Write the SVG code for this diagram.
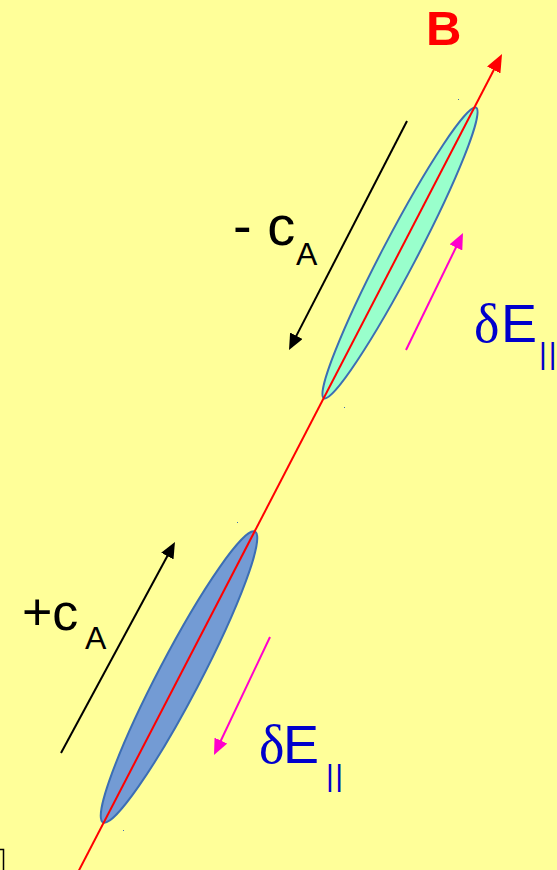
<svg xmlns="http://www.w3.org/2000/svg" width="557" height="870" viewBox="0 0 557 870">
<style>
.sans{font-family:"Liberation Sans",Arial,sans-serif}
.serif{font-family:"Liberation Serif","Times New Roman",serif}
.blk{stroke:#000;stroke-width:2;fill:none}
.mag{stroke:#FF00CC;stroke-width:2;fill:none}
.red{stroke:#FF0000;stroke-width:2;fill:none}
.blue{fill:#0000CC}
</style>
<defs>
<marker id="ahB" markerUnits="userSpaceOnUse" markerWidth="16" markerHeight="14" refX="6" refY="7" orient="auto"><path d="M0,0 L16,7 L0,14 z" fill="#000"/></marker>
<marker id="ahM" markerUnits="userSpaceOnUse" markerWidth="16" markerHeight="14" refX="6" refY="7" orient="auto"><path d="M0,0 L16,7 L0,14 z" fill="#FF00CC"/></marker>
<marker id="ahR" markerUnits="userSpaceOnUse" markerWidth="18" markerHeight="15" refX="6" refY="7.5" orient="auto"><path d="M0,0 L18,7.5 L0,15 z" fill="#FF0000"/></marker>
</defs>
<rect width="557" height="870" fill="#FFFF99"/>
<g id="ellipse-upper">
<ellipse cx="400" cy="253" rx="164" ry="17" transform="rotate(-62.35 400 253)" fill="#99FFCC" stroke="#3C6EB4" stroke-width="2"/>
</g>
<g id="ellipse-lower">
<ellipse cx="179" cy="677" rx="164" ry="21" transform="rotate(-62.4 179 677)" fill="#739BD4" stroke="#3C6EB4" stroke-width="2"/>
</g>
<g id="connectors">
<line class="red" x1="75" y1="878" x2="496.5" y2="64.7" marker-end="url(#ahR)"/>
<line class="blk" x1="407" y1="121" x2="293.6" y2="341.1" marker-end="url(#ahB)"/>
<line class="blk" x1="61" y1="753" x2="170.2" y2="550.8" marker-end="url(#ahB)"/>
<line class="mag" x1="406" y1="350" x2="458.6" y2="242" marker-end="url(#ahM)"/>
<line class="mag" x1="270" y1="637" x2="218.3" y2="746" marker-end="url(#ahM)"/>
</g>
<g id="dots" fill="#3C6EB4">
<rect x="458" y="99" width="1" height="1"/>
<rect x="344" y="407" width="1" height="1"/>
<rect x="237" y="522" width="1" height="1"/>
<rect x="123" y="830" width="1" height="1"/>
</g>
<path d="M0,849.5 H3.5 V870" stroke="#000" stroke-width="1.5" fill="none"/>
<g id="label-B">
<text class="sans" x="426" y="45" font-size="49" font-weight="bold" fill="#FF0000">B</text>
</g>
<g id="label-minus-cA">
<text class="sans" x="233" y="245" font-size="56" fill="#000">- c</text>
<text class="sans" x="296" y="265" font-size="32" fill="#000">A</text>
</g>
<g id="label-plus-cA">
<text class="sans" x="22" y="630" font-size="52" fill="#000">+c</text>
<text class="sans" x="85" y="649" font-size="32" fill="#000">A</text>
</g>
<g id="label-dE-upper">
<text class="serif blue" x="474" y="342" font-size="54">δ</text>
<text class="sans blue" x="501" y="342" font-size="54">E</text>
<text class="sans blue" x="539" y="364" font-size="30">|<tspan dx="2">|</tspan></text>
</g>
<g id="label-dE-lower">
<text class="serif blue" x="259" y="763" font-size="54">δ</text>
<text class="sans blue" x="283" y="763" font-size="54">E</text>
<text class="sans blue" x="326" y="786" font-size="30">|<tspan dx="1.5">|</tspan></text>
</g>
</svg>
